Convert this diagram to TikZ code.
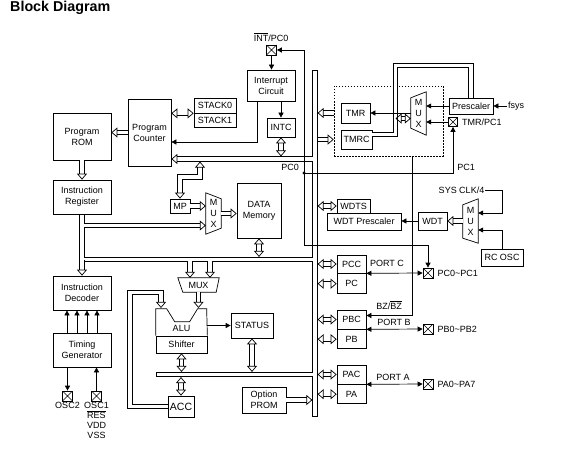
\documentclass[tikz,border=0pt]{standalone}
\usepackage{fontspec}
\setmainfont{Liberation Sans}
\usepackage{tikz}
\usetikzlibrary{arrows.meta,positioning}
\tikzset{
  bloco/.style={rectangle,draw,line width=.7pt,align=center,inner sep=1pt,
    font=\fontsize{9}{11}\selectfont},
  pino/.style={rectangle,draw,line width=.7pt,minimum size=10pt,inner sep=0pt,
    path picture={\draw[line width=.6pt]
      (path picture bounding box.south west) -- (path picture bounding box.north east)
      (path picture bounding box.north west) -- (path picture bounding box.south east);}},
  mux/.style={inner sep=0pt,align=center,font=\fontsize{9}{11}\selectfont},
  texto/.style={inner sep=1pt,align=center,font=\fontsize{9}{10}\selectfont},
  fio/.style={line width=.7pt,>={Triangle[length=5pt,width=5pt]}},
  largo/.style={double,double distance=3.8pt,line width=.7pt,
    >={Triangle[open,length=6pt,width=10pt,line width=.7pt]}}
}
\begin{document}
\begin{tikzpicture}[x=1pt,y=-1pt]
\useasboundingbox (0,0) rectangle (561,457);
\node[anchor=base west,inner sep=0pt,font=\fontsize{14.3}{16}\selectfont\bfseries] (titulo)
  at (10,11.5) {Block Diagram};

% coluna da esquerda
\node[bloco,minimum width=58pt,minimum height=47pt] (rom) at (82,136.5) {Program\\ROM};
\node[bloco,minimum width=43pt,minimum height=67pt] (pc) at (149.5,132.5) {Program\\Counter};
\node[bloco,minimum width=58pt,minimum height=34pt] (ir) at (82,197) {Instruction\\Register};
\node[bloco,minimum width=58pt,minimum height=34pt] (id) at (82,293) {Instruction\\Decoder};
\node[bloco,minimum width=58pt,minimum height=34pt] (tg) at (82,350) {Timing\\Generator};
\node[pino] (osc2) at (67.5,396) {};
\node[pino] (osc1) at (96.5,396) {};
\node[texto,anchor=north] at (67.5,401) {OSC2};
\node[texto,anchor=north] at (96.5,401) {OSC1\\$\smash{\overline{\hbox{RES}}}$\\VDD\\VSS};

% pilha, interrupcao
\node[bloco,minimum width=42pt,minimum height=15pt] (stk0) at (215,105.5) {STACK0};
\node[bloco,minimum width=42pt,minimum height=14pt,below=0pt of stk0] (stk1) {STACK1};
\node[pino] (pint) at (271.5,50) {};
\node[texto] at (271,37) {$\overline{\hbox{INT}}$/PC0};
\node[bloco,minimum width=48pt,minimum height=31pt] (irq) at (271,85.5) {Interrupt\\Circuit};
\node[bloco,minimum width=28pt,minimum height=19pt] (intc) at (281,127.5) {INTC};

% memoria de dados
\node[bloco,minimum width=20pt,minimum height=14pt] (mp) at (180,206) {MP};
\node[mux,minimum width=15pt,minimum height=41pt] (dmux) at (213.5,213.5) {M\\U\\X};
\node[bloco,minimum width=44pt,minimum height=55pt] (dados) at (259,210.5) {DATA\\Memory};

% ALU
\node[mux,minimum width=41pt,minimum height=14pt] (amux) at (198.5,285) {MUX};
\node[bloco,minimum width=51pt,minimum height=17pt] (shf) at (181.5,344.5) {Shifter};
\node[bloco,draw=none,minimum width=51pt,minimum height=14pt,anchor=south] (alu) at (shf.north) {ALU};
\coordinate (alutopo) at ([yshift=13pt]alu.north);
\node[bloco,minimum width=42pt,minimum height=25pt] (status) at (252,325.5) {STATUS};
\node[bloco,minimum width=26pt,minimum height=21pt,font=\fontsize{10.5}{12}\selectfont] (acc) at (181,406.5) {ACC};
\node[bloco,minimum width=44pt,minimum height=26pt] (prom) at (264,400) {Option\\PROM};

% timer
\node[draw,line width=.6pt,dash pattern=on 1.5pt off 1.5pt,minimum width=109pt,minimum height=70pt] (temp) at (388.5,121) {};
\node[bloco,minimum width=29pt,minimum height=20pt] (tmr) at (355.5,113) {TMR};
\node[bloco,minimum width=31pt,minimum height=19pt] (tmrc) at (356.5,139.5) {TMRC};
\node[mux,minimum width=15pt,minimum height=43pt] (tmux) at (418.5,113.5) {M\\U\\X};
\node[bloco,minimum width=44pt,minimum height=16pt] (psc) at (471,106) {Prescaler};
\node[pino,minimum size=9pt] (ptmr) at (453,122) {};
\node[texto,right=3pt of ptmr] {TMR/PC1};
\node[texto,anchor=west] (fsys) at (507,106) {fsys};

% watchdog
\node[bloco,minimum width=33pt,minimum height=14pt] (wdts) at (353.5,206) {WDTS};
\node[bloco,minimum width=74pt,minimum height=17pt] (wdtp) at (364,221.5) {WDT Prescaler};
\node[bloco,minimum width=29pt,minimum height=18pt] (wdt) at (432.5,221) {WDT};
\node[mux,minimum width=15pt,minimum height=44pt] (wmux) at (470.5,221) {M\\U\\X};
\node[texto] (sysclk) at (461.5,190) {SYS CLK/4};
\node[bloco,minimum width=42pt,minimum height=17pt] (rcosc) at (502,257.5) {RC OSC};

% portas
\node[bloco,minimum width=29pt,minimum height=18pt] (pcc) at (351.5,264) {PCC};
\node[bloco,minimum width=29pt,minimum height=20pt,below=0pt of pcc] (pcr) {PC};
\node[bloco,minimum width=29pt,minimum height=19pt] (pbc) at (351.5,319.5) {PBC};
\node[bloco,minimum width=29pt,minimum height=19pt,below=0pt of pbc] (pb) {PB};
\node[bloco,minimum width=29pt,minimum height=19pt] (pac) at (351.5,374.5) {PAC};
\node[bloco,minimum width=29pt,minimum height=19pt,below=0pt of pac] (pa) {PA};
\node[pino] (ppc) at (428,273) {};
\node[pino] (ppb) at (428,329) {};
\node[pino] (ppa) at (428,384) {};
\node[texto,right=3pt of ppc] {PC0\textasciitilde PC1};
\node[texto,right=3pt of ppb] {PB0\textasciitilde PB2};
\node[texto,right=3pt of ppa] {PA0\textasciitilde PA7};
\node[texto] at (387,263) {PORT C};
\node[texto] at (394,322) {PORT B};
\node[texto] at (393,377) {PORT A};
\node[texto] at (389,305) {BZ/$\overline{\hbox{BZ}}$};
\node[texto] at (290,167) {PC0};
\node[texto] at (466,167) {PC1};

% muxes e ALU
\draw[line width=.7pt] (dmux.north west) -- ([yshift=-6pt]dmux.north east)
  -- ([yshift=6pt]dmux.south east) -- (dmux.south west) -- cycle;
\draw[line width=.7pt] ([yshift=-6pt]tmux.north west) -- (tmux.north east)
  -- (tmux.south east) -- ([yshift=7pt]tmux.south west) -- cycle;
\draw[line width=.7pt] ([yshift=-6pt]wmux.north west) -- (wmux.north east)
  -- (wmux.south east) -- ([yshift=5pt]wmux.south west) -- cycle;
\draw[line width=.7pt] (amux.north west) -- (amux.north east)
  -- ([xshift=-3pt]amux.south east) -- ([xshift=5pt]amux.south west) -- cycle;
\draw[line width=.7pt] (shf.north west) -- ++(0,-27) -- ++(11,0) -- ++(8,13) -- ++(15,0)
  -- ++(8,-13) -- ++(9,0) -- (shf.north east);

% barramento
\coordinate (bsup) at (315,72.6);
\coordinate (binf) at (315,414.4);
\coordinate (bpc) at (315,159);
\coordinate (bir) at (315,259.5);
\coordinate (bula) at (315,374.5);
\draw[largo,line cap=rect] (bsup) -- (binf)
  (bpc) -- ([xshift=12pt]pc.east |- bpc)
  (bula) -- (158.6,374.5)
  (bir) -- (ir.south |- bir)
  ([yshift=-2.6pt]ir.south) -- ([yshift=12pt]id.north)
  ([yshift=-12pt]dmux.west -| ir.south) -- ([xshift=-12pt,yshift=-12pt]dmux.west)
  ([xshift=-8.5pt]amux.north |- bir) -- ([xshift=-8.5pt,yshift=12pt]amux.north)
  ([xshift=11.5pt]amux.north |- bir) -- ([xshift=11.5pt,yshift=12pt]amux.north);
\draw[largo,->] ([xshift=16pt]pc.east |- bpc) -- (pc.east |- bpc);
\draw[largo,->] ([yshift=16pt]id.north) -- (id.north);
\draw[largo,->] ([xshift=-16pt,yshift=-12pt]dmux.west) -- ([yshift=-12pt]dmux.west);
\draw[largo,->] ([xshift=-8.5pt,yshift=16pt]amux.north) -- ([xshift=-8.5pt]amux.north);
\draw[largo,->] ([xshift=11.5pt,yshift=16pt]amux.north) -- ([xshift=11.5pt]amux.north);

% setas largas
\draw[largo,->] (pc.west) -- (pc.west -| rom.east);
\draw[largo,->] (rom.south) -- (ir.north);
\draw[largo,<->] (stk0.south west -| pc.east) -- (stk0.south west);
\draw[largo,<->] (intc.south) -- ([yshift=2.6pt]intc.south |- bpc);
\coordinate (mpc) at (200,177);
\draw[largo,<->] (mp.north) |- (mpc) -- ([yshift=-2.6pt]mpc |- bpc);
\draw[largo,->] (mp.east) -- (mp.east -| dmux.west);
\draw[largo,->] (dmux.east) -- (dmux.east -| dados.west);
\draw[largo,<->] (dados.south) -- ([yshift=2.6pt]dados.south |- bir);
\draw[largo,->] (amux.south) -- (amux.south |- alutopo);
\coordinate (aret) at (130,292.5);
\draw[largo,->] (acc.west) -| (aret) -| ([xshift=-20.5pt]alutopo);
\draw[largo,<->] (shf.south) -- ([yshift=2.6pt]shf.south |- bula);
\draw[largo,<->] ([yshift=-2.6pt]acc.north |- bula) -- (acc.north);
\draw[largo,<->] (status.south) -- ([yshift=2.6pt]status.south |- bula);
\draw[largo,->] (prom.east) -- ([xshift=-2.6pt]prom.east -| bsup);
\draw[largo,->] (temp.west |- tmr.east) -- ([xshift=2.6pt]bsup |- tmr.east);
\draw[largo,->] ([xshift=2.6pt]bsup |- tmrc.west) -- (temp.west |- tmrc.west);
\coordinate (tvolta) at (395.5,65.5);
\coordinate (tram) at (395.5,118.5);
\draw[largo,<->] (psc.north) |- (tvolta) |- ([yshift=5pt]tmrc.east)
  (tram) -- (tram -| tmux.west);
\draw[largo,<->] ([xshift=2.6pt]bsup |- wdts.west) -- (wdts.west);
\draw[largo,->] (wmux.west) -- (wdt.east);
\foreach \p in {pcc,pcr,pbc,pb,pac,pa}
  \draw[largo,<->] ([xshift=2.6pt]bsup |- \p.west) -- (\p.west);

% sinais
\coordinate (pc0) at (304,173);
\coordinate (pcvolta) at (304,245);
\draw[fio,->] (pint.south) -- (pint.south |- irq.north);
\draw[fio,->] (irq.south -| intc.north) -- (intc.north);
\draw[fio,->] ([xshift=-14pt]irq.south) |- ([yshift=-9.5pt]pc.east);
\draw[fio,<->] (pint.east) -| (pcvolta) -| (ppc.north);
\fill (pc0) circle (1.6pt);
\draw[fio,->] (pc0) -| (ptmr.south);
\draw[fio,->] (psc.west) -- (psc.west -| tmux.east);
\draw[fio,->] (ptmr.west) -- (ptmr.west -| tmux.east);
\draw[fio,->] (fsys.west) -- (psc.east);
\draw[fio,->] (tmux.west |- tmr.east) -- (tmr.east);
\draw[fio,->] (wdt.west) -- (wdt.west -| wdtp.east);
\draw[fio,->] (sysclk.east) -| ([yshift=8pt]wmux.east -| rcosc.north) -- ([yshift=8pt]wmux.east);
\draw[fio,->] (rcosc.north) |- ([yshift=-9pt]wmux.east);
\draw[fio,->] ([xshift=23.5pt]temp.south) |- ([yshift=4pt]pbc.east);
\draw[fio,<->] (pcc.south east) -- (ppc.west);
\draw[fio,<->] (pbc.south east) -- (ppb.west);
\draw[fio,<->] (pac.south east) -- (ppa.west);
\foreach \dx in {-15,-5,5,15}
  \draw[fio,->] ([xshift=\dx pt]tg.north) -- ([xshift=\dx pt]id.south);
\draw[fio,->] (tg.south -| osc2.north) -- (osc2.north);
\draw[fio,->] (osc1.north) -- (osc1.north |- tg.south);
\draw[fio,->] (alu.east |- status.west) -- (status.west);
\end{tikzpicture}
\end{document}
